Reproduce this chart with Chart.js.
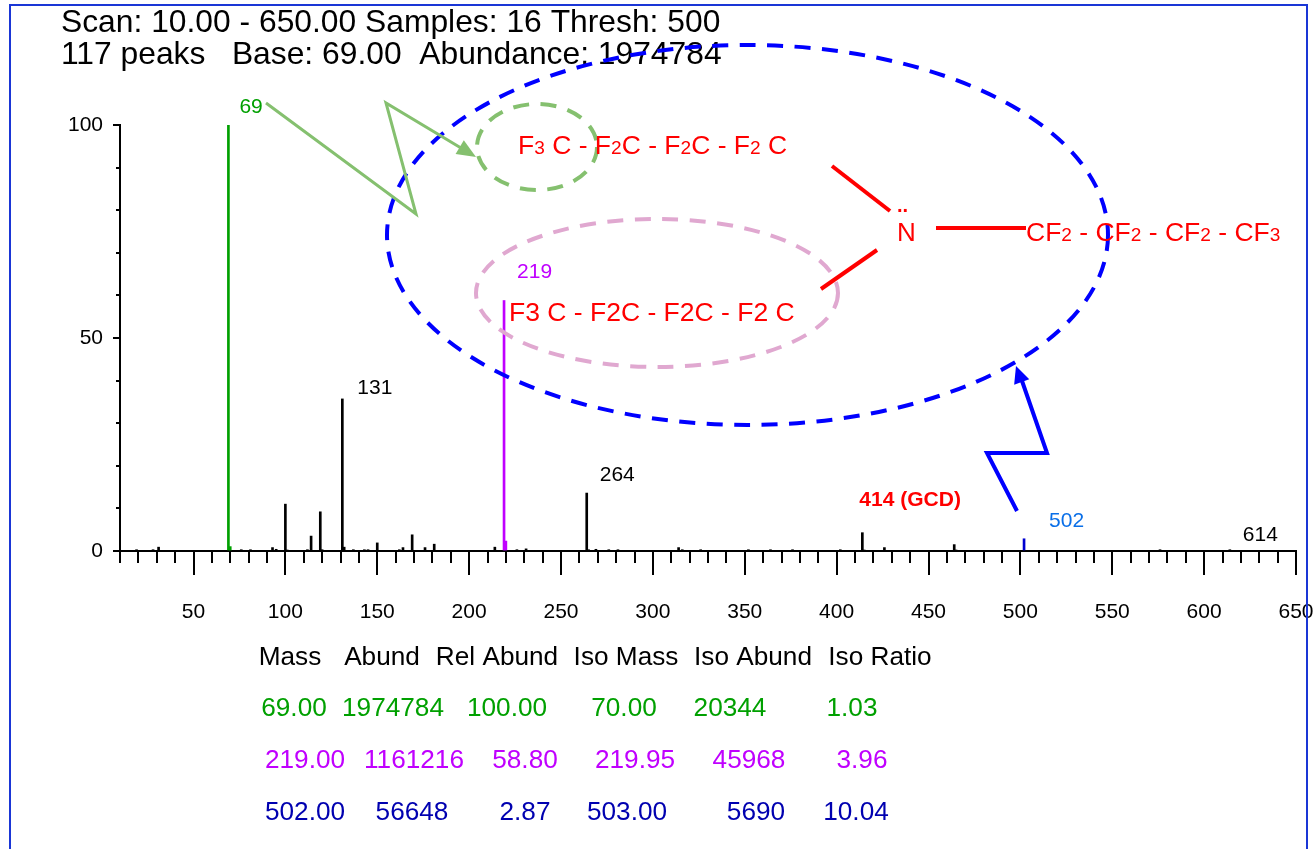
<!DOCTYPE html>
<html>
<head>
<meta charset="utf-8">
<title>Mass spectrum</title>
<script src="https://cdn.jsdelivr.net/npm/chart.js@4"></script>
<style>
  html, body { margin: 0; padding: 0; background: #fff; overflow: hidden; }
  #wrap { width: 1313px; height: 849px; }
</style>
</head>
<body>
<div id="wrap"><canvas id="spectrum"></canvas></div>
<script>
// spectrum peaks (m/z, relative abundance)
const blackMass = [19, 28, 31, 76, 81, 93, 95, 100, 101, 112, 114, 119, 120, 131, 132, 137, 143, 145, 150, 162, 164, 169, 176, 181, 214, 226, 231, 264, 265, 269, 276, 281, 314, 316, 326, 352, 364, 376, 402, 414, 415, 426, 464, 465, 576, 614];
const blackAbund = [0.3, 0.3, 0.9, 0.3, 0.3, 0.8, 0.4, 11, 0.2, 0.3, 3.5, 9.2, 0.3, 35.7, 0.9, 0.3, 0.3, 0.3, 1.9, 0.3, 0.8, 3.8, 0.8, 1.6, 0.9, 0.3, 0.5, 13.6, 0.3, 0.4, 0.3, 0.3, 0.8, 0.3, 0.3, 0.3, 0.3, 0.3, 0.3, 4.3, 0.2, 0.8, 1.5, 0.2, 0.3, 0.3];
const greenMass = [69, 70];
const greenAbund = [100, 1.03];
const magentaMass = [219, 220];
const magentaAbund = [58.8, 2.33];
const blueMass = [502];
const blueAbund = [2.87];

const peakLabels = [
  { mass: 69, abund: 100, text: '69', color: '#00a000', dx: 11, dy: -12 },
  { mass: 131, abund: 35.7, text: '131', color: '#000', dx: 15, dy: -5 },
  { mass: 219, abund: 58.8, text: '219', color: '#c000ff', dx: 13, dy: -23 },
  { mass: 264, abund: 13.6, text: '264', color: '#000', dx: 13, dy: -12 },
  { mass: 414, abund: 4.3, text: '414 (GCD)', color: '#ff0000', dx: -3, dy: -27, bold: true },
  { mass: 502, abund: 2.87, text: '502', color: '#0a6fe8', dx: 25, dy: -12 },
  { mass: 614, abund: 0.3, text: '614', color: '#000', dx: 13, dy: -9 }
];

const tableHeader = ['Mass', 'Abund', 'Rel Abund', 'Iso Mass', 'Iso Abund', 'Iso Ratio'];
const tableRows = [
  { color: '#00a000', cells: ['69.00', '1974784', '100.00', '70.00', '20344', '1.03'] },
  { color: '#c000ff', cells: ['219.00', '1161216', '58.80', '219.95', '45968', '3.96'] },
  { color: '#0000b0', cells: ['502.00', '56648', '2.87', '503.00', '5690', '10.04'] }
];

const FONT = '"Liberation Sans", Arial, sans-serif';

function xy(xs, ys) {
  return xs.map((m, i) => ({ x: m, y: ys[i] }));
}

function peakSet(xs, ys, color) {
  return { data: xy(xs, ys), backgroundColor: color, barThickness: 2, grouped: false };
}

function text(ctx, str, x, y, size, color, weight, align) {
  ctx.font = (weight || 'normal') + ' ' + size + 'px ' + FONT;
  ctx.fillStyle = color;
  ctx.textAlign = align || 'left';
  ctx.textBaseline = 'alphabetic';
  ctx.fillText(str, x, y);
}

// text with subscripts: parts marked sub are drawn smaller on the same baseline
function subText(ctx, parts, x, y, size, color) {
  ctx.textAlign = 'left';
  ctx.textBaseline = 'alphabetic';
  ctx.fillStyle = color;
  parts.forEach(p => {
    const small = p.sub === true;
    ctx.font = (small ? size * 0.72 : size) + 'px ' + FONT;
    ctx.fillText(p.t, x, y);
    x += ctx.measureText(p.t).width;
  });
}

function s(t) { return { t: t, sub: true }; }
function n(t) { return { t: t }; }

function ellipse(ctx, cx, cy, rx, ry, color, width, dash) {
  ctx.save();
  ctx.strokeStyle = color;
  ctx.lineWidth = width;
  ctx.setLineDash(dash);
  ctx.beginPath();
  ctx.ellipse(cx, cy, rx, ry, 0, 0, Math.PI * 2);
  ctx.stroke();
  ctx.restore();
}

function polyline(ctx, pts, color, width) {
  ctx.strokeStyle = color;
  ctx.lineWidth = width;
  ctx.beginPath();
  pts.forEach((p, i) => i ? ctx.lineTo(p[0], p[1]) : ctx.moveTo(p[0], p[1]));
  ctx.stroke();
}

function arrowHead(ctx, from, to, len, half, color) {
  const a = Math.atan2(to[1] - from[1], to[0] - from[0]);
  ctx.fillStyle = color;
  ctx.beginPath();
  ctx.moveTo(to[0], to[1]);
  ctx.lineTo(to[0] - len * Math.cos(a) + half * Math.sin(a), to[1] - len * Math.sin(a) - half * Math.cos(a));
  ctx.lineTo(to[0] - len * Math.cos(a) - half * Math.sin(a), to[1] - len * Math.sin(a) + half * Math.cos(a));
  ctx.closePath();
  ctx.fill();
}

// long ticks every 50 and the peak labels follow the scales, the rest is overlay
const overlay = {
  id: 'overlay',
  afterDraw(chart) {
    const ctx = chart.ctx;
    const xs = chart.scales.x;
    const ys = chart.scales.y;
    ctx.save();

    // frame
    ctx.strokeStyle = '#1a36d6';
    ctx.lineWidth = 2;
    ctx.beginPath();
    ctx.moveTo(10, 860);
    ctx.lineTo(10, 5);
    ctx.lineTo(1307, 5);
    ctx.lineTo(1307, 860);
    ctx.stroke();

    // long ticks
    ctx.strokeStyle = '#000';
    ctx.lineWidth = 2;
    xs.ticks.forEach(t => {
      if (t.value % 50 === 0) {
        const px = Math.round(xs.getPixelForValue(t.value));
        ctx.beginPath();
        ctx.moveTo(px, xs.top);
        ctx.lineTo(px, xs.top + 24);
        ctx.stroke();
      }
    });
    ys.ticks.forEach(t => {
      if (t.value % 50 === 0) {
        const py = ys.getPixelForValue(t.value);
        ctx.beginPath();
        ctx.moveTo(ys.right - 7, py);
        ctx.lineTo(ys.right, py);
        ctx.stroke();
      }
    });

    // header
    text(ctx, 'Scan: 10.00 - 650.00 Samples: 16 Thresh: 500', 61, 32, 31.8, '#000');
    text(ctx, '117 peaks   Base: 69.00  Abundance: 1974784', 61, 64, 31.8, '#000');

    // peak labels
    peakLabels.forEach(l => {
      const px = xs.getPixelForValue(l.mass);
      const py = ys.getPixelForValue(l.abund);
      text(ctx, l.text, px + l.dx, py + l.dy, 21, l.color, l.bold ? 'bold' : 'normal');
    });

    // table
    const headX = [290, 382, 497, 626, 753, 880];
    tableHeader.forEach((h, i) => text(ctx, h, headX[i], 665, 26.2, '#000', 'normal', 'center'));
    const colX = [294, 393, 507, 624, 730, 852];
    const colX2 = [305, 414, 525, 635, 749, 862];
    const colX3 = [305, 412, 525, 627, 756, 856];
    const rowY = [716, 768, 820];
    tableRows.forEach((row, r) => {
      const cols = r === 0 ? colX : (r === 1 ? colX2 : colX3);
      row.cells.forEach((c, i) => text(ctx, c, cols[i], rowY[r], 26.2, row.color, 'normal', 'center'));
    });

    // circled fragments
    ellipse(ctx, 747.5, 235, 360.5, 190, '#0000ff', 4, [16, 11.5]);
    ellipse(ctx, 537, 147, 60, 43, '#85c06f', 4, [16, 11.5]);
    ellipse(ctx, 657, 293, 181, 74, '#e0a8d0', 4, [16, 11.5]);

    // structure
    const red = '#ff0000';
    subText(ctx, [n('F'), s('3'), n(' C - F'), s('2'), n('C - F'), s('2'), n('C - F'), s('2'), n(' C')], 518, 154, 26.5, red);
    text(ctx, 'F3 C - F2C - F2C - F2 C', 509, 321, 26.5, red);
    text(ctx, 'N', 897, 241, 26, red);
    text(ctx, '..', 897, 212, 20, red, 'bold');
    subText(ctx, [n('CF'), s('2'), n(' - CF'), s('2'), n(' - CF'), s('2'), n(' - CF'), s('3')], 1026, 241, 26.5, red);
    polyline(ctx, [[832, 166], [890, 211]], red, 4);
    polyline(ctx, [[877, 250], [821, 289]], red, 4);
    polyline(ctx, [[936, 228], [1026, 228]], red, 4);

    // arrows
    const gr = '#85c06f';
    polyline(ctx, [[266, 103], [416, 214], [386, 103], [466, 151]], gr, 3);
    arrowHead(ctx, [386, 103], [476, 157], 19, 8, gr);
    polyline(ctx, [[1017, 511], [987, 453], [1047, 453], [1021, 378]], '#0000ff', 4);
    arrowHead(ctx, [1047, 453], [1016, 366], 17, 8, '#0000ff');

    ctx.restore();
  }
};

new Chart(document.getElementById('spectrum'), {
  type: 'bar',
  data: {
    datasets: [
      peakSet(blackMass, blackAbund, '#000'),
      peakSet(greenMass, greenAbund, '#00a000'),
      peakSet(magentaMass, magentaAbund, '#c000ff'),
      peakSet(blueMass, blueAbund, '#0000d0')
    ]
  },
  options: {
    responsive: true,
    maintainAspectRatio: false,
    animation: false,
    layout: { padding: { top: 125, right: 17, left: 0, bottom: 0 } },
    plugins: { legend: { display: false }, tooltip: { enabled: false } },
    scales: {
      x: {
        type: 'linear',
        min: 10,
        max: 650,
        offset: false,
        afterFit: s => {
          s.height = 298;
          s.paddingLeft = 0;
          s.paddingRight = 0;
        },
        afterBuildTicks: s => {
          const ticks = [];
          for (let v = 10; v <= 650; v += 10) ticks.push({ value: v });
          s.ticks = ticks;
        },
        grid: { display: true, offset: false, drawOnChartArea: false, color: '#000', lineWidth: 2, tickLength: 12 },
        border: { color: '#000', width: 2 },
        ticks: {
          autoSkip: false,
          maxRotation: 0,
          padding: 37,
          color: '#000',
          font: { family: FONT, size: 21 },
          callback: v => (v % 50 === 0 ? String(v) : '')
        }
      },
      y: {
        min: 0,
        max: 100,
        afterFit: s => { s.width = 120; },
        afterBuildTicks: s => {
          const ticks = [];
          for (let v = 0; v <= 100; v += 10) ticks.push({ value: v });
          s.ticks = ticks;
        },
        grid: { display: true, drawOnChartArea: false, color: '#000', lineWidth: 2, tickLength: 4 },
        border: { color: '#000', width: 2 },
        ticks: {
          autoSkip: false,
          padding: 13,
          color: '#000',
          font: { family: FONT, size: 21 },
          callback: v => (v % 50 === 0 ? String(v) : '')
        }
      }
    }
  },
  plugins: [overlay]
});
</script>
</body>
</html>
